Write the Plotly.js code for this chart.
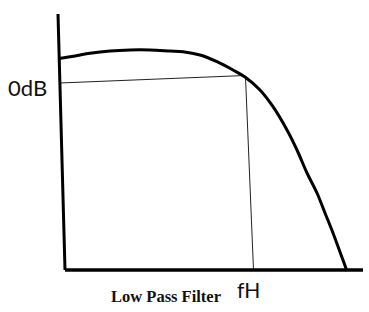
<!DOCTYPE html>
<html>
<head>
<meta charset="utf-8">
<script src="https://cdn.plot.ly/plotly-3.0.1.min.js"></script>
<style>html,body{margin:0;padding:0;background:#fff;}#chart{width:369px;height:312px;}</style>
</head>
<body>
<div id="chart"></div>
<script>
// Frequency response (hand-drawn style), arbitrary units
const freq = [-6, 10, 25, 45, 65, 85, 105, 118, 135, 152, 168, 180, 195, 208, 222, 232, 242, 252, 260, 268, 275, 282];
const gain = [211.5, 214, 216.7, 219, 220, 220, 219, 218.3, 215, 208.3, 200, 193, 180, 163.3, 140, 120, 97, 77, 57, 37, 18, -1];
// Axes (slightly slanted vertical axis as drawn)
const yAxisX = [-7, 0];
const yAxisY = [256, 0];
const xAxisX = [0, 298];
const xAxisY = [0, 0];
// 0dB reference and cutoff frequency guide lines
const refX = [-5.5, 180];
const refY = [187, 194.5];
const cutX = [180.5, 188.5];
const cutY = [193, 0];
// Labels
const labels = ["0dB", "fH", "Low Pass Filter"];

const thin = {color: "#222", width: 1};
const traces = [
  {x: refX, y: refY, mode: "lines", line: thin, hoverinfo: "skip"},
  {x: cutX, y: cutY, mode: "lines", line: thin, hoverinfo: "skip"},
  {x: yAxisX, y: yAxisY, mode: "lines", line: {color: "#000", width: 3}, hoverinfo: "skip"},
  {x: xAxisX, y: xAxisY, mode: "lines", line: {color: "#000", width: 3.5}, hoverinfo: "skip"},
  {x: freq, y: gain, mode: "lines", line: {color: "#000", width: 3, shape: "spline", smoothing: 1}, hoverinfo: "skip"}
];
const layout = {
  width: 369, height: 312,
  margin: {l: 0, r: 0, t: 0, b: 0, pad: 0},
  paper_bgcolor: "#fff", plot_bgcolor: "#fff",
  showlegend: false,
  xaxis: {range: [-65, 304], visible: false, fixedrange: true},
  yaxis: {range: [-42, 270], visible: false, fixedrange: true},
  annotations: [
    {x: -38, y: 182.5, xref: "x", yref: "y", text: labels[0], showarrow: false,
     font: {family: "Lato, 'Open Sans', sans-serif", size: 22, color: "#111"}},
    {x: 183.5, y: -19, xref: "x", yref: "y", text: labels[1], showarrow: false,
     font: {family: "Lato, 'Open Sans', sans-serif", size: 21, color: "#111"}},
    {x: 101, y: -26, xref: "x", yref: "y", text: "<b>" + labels[2] + "</b>", showarrow: false,
     font: {family: "'Liberation Serif', 'Times New Roman', serif", size: 16.5, color: "#111"}}
  ]
};
Plotly.newPlot("chart", traces, layout, {staticPlot: true, displayModeBar: false});
</script>
</body>
</html>
